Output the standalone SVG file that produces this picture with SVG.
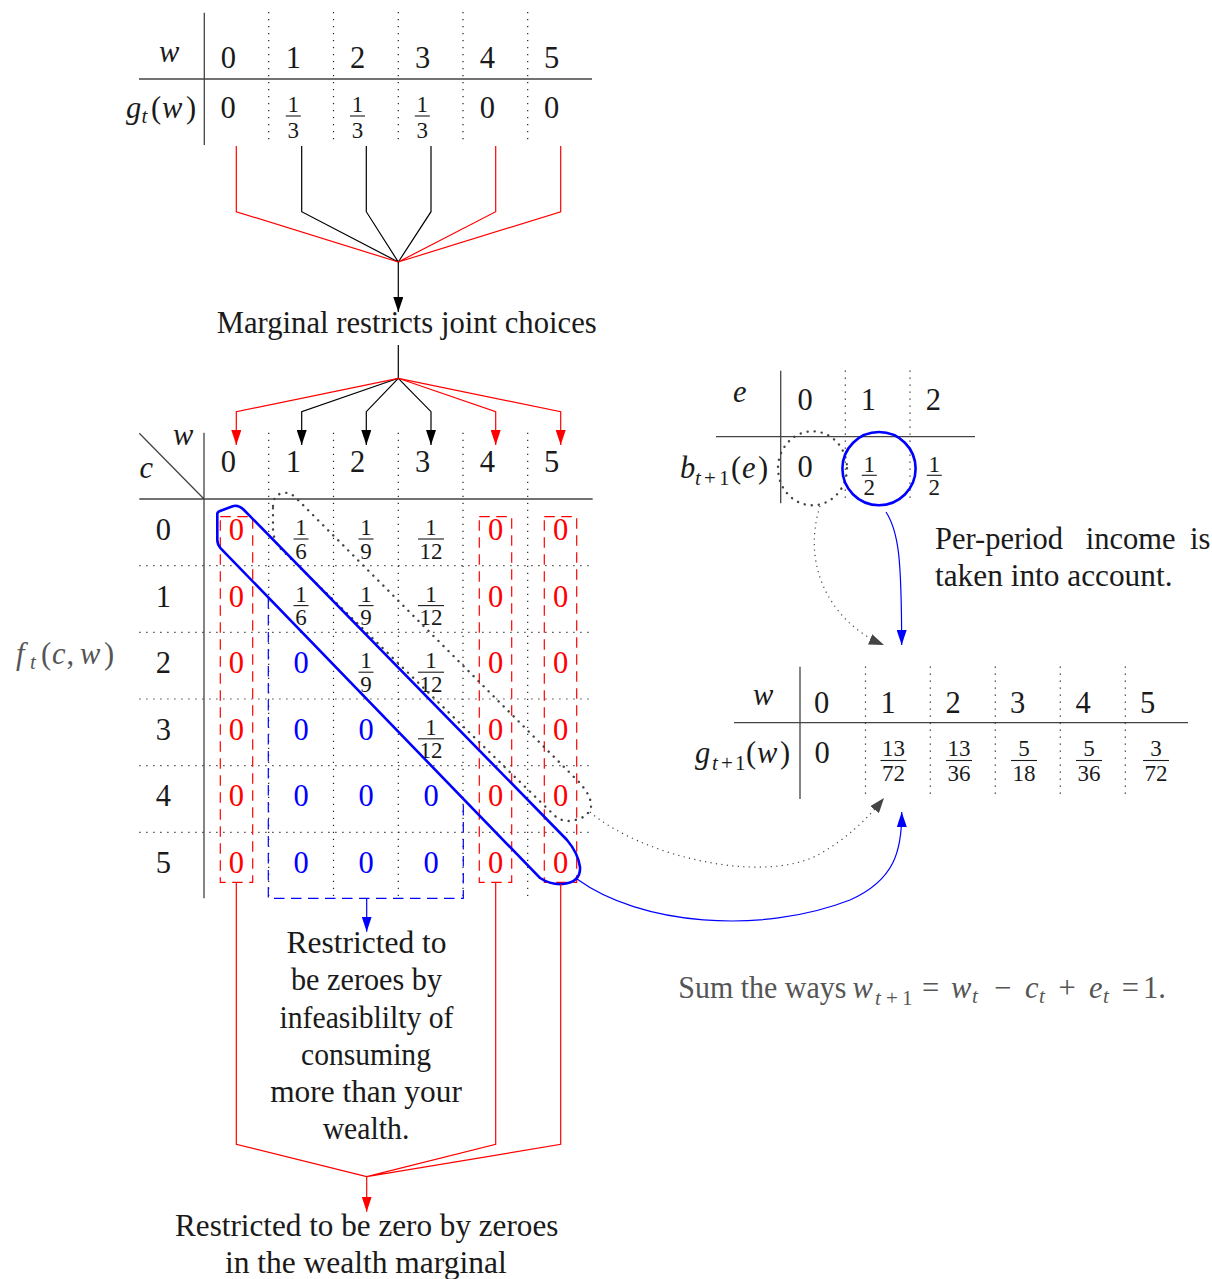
<svg xmlns="http://www.w3.org/2000/svg" width="1212" height="1279" viewBox="0 0 1212 1279">
<defs>
<style>
text{font-family:"Liberation Serif","Times New Roman",serif;fill:#1a1a1a;font-size:30.5px}
.c{text-anchor:middle}
.i{font-style:italic}
.s{font-size:21px}
.fr{font-size:23px;text-anchor:middle}
.red{fill:#ff0000}
.blue{fill:#0000ff}
.gray{fill:#555}
.solid{stroke:#444;stroke-width:1.3;fill:none}
.dot{stroke:#222;stroke-width:1.2;fill:none;stroke-dasharray:1.2 5.8}
.bar{stroke:#1a1a1a;stroke-width:1.1}
.cr{stroke:#ff0000;stroke-width:1.2;fill:none}
.ck{stroke:#000;stroke-width:1.2;fill:none}
.cb{stroke:#0000ff;stroke-width:1.2;fill:none}
.cg{stroke:#444;stroke-width:1.2;fill:none;stroke-dasharray:1.2 4.3}
.rdash{stroke:#ff0000;stroke-width:1.2;fill:none;stroke-dasharray:10.5 6.5}
.bdash{stroke:#0000ff;stroke-width:1.2;fill:none;stroke-dasharray:10.5 6.5}
.thickdot{stroke:#444;stroke-width:2.4;fill:none;stroke-dasharray:0.1 7;stroke-linecap:round}
.hl{stroke:#0000ff;stroke-width:2.6;fill:none}
</style>
<marker id="ak" viewBox="0 0 15 10" refX="15" refY="5" markerWidth="15" markerHeight="10" markerUnits="userSpaceOnUse" orient="auto"><path d="M0,0 L15,5 L0,10 Z" fill="#000"/></marker>
<marker id="ar" viewBox="0 0 15 10" refX="15" refY="5" markerWidth="15" markerHeight="10" markerUnits="userSpaceOnUse" orient="auto"><path d="M0,0 L15,5 L0,10 Z" fill="#ff0000"/></marker>
<marker id="ab" viewBox="0 0 15 10" refX="15" refY="5" markerWidth="15" markerHeight="10" markerUnits="userSpaceOnUse" orient="auto"><path d="M0,0 L15,5 L0,10 Z" fill="#0000ff"/></marker>
<marker id="ag" viewBox="0 0 15 11" refX="15" refY="5.5" markerWidth="15" markerHeight="11" markerUnits="userSpaceOnUse" orient="auto"><path d="M0,0 L15,5.5 L0,11 Z" fill="#444"/></marker>
</defs>
<rect width="1212" height="1279" fill="#fff"/>

<!-- top marginal table g_t(w) -->
<g id="gt-table">
<path class="solid" d="M139,79 H592 M204.3,12.7 V145"/>
<path class="dot" d="M268.7,12 V145 M333.5,12 V145 M398.3,12 V145 M463,12 V145 M527.7,12 V145"/>
<text class="i" x="159" y="62">w</text>
<text class="c" x="228.3" y="68">0</text>
<text class="c" x="293.3" y="68">1</text>
<text class="c" x="357.7" y="68">2</text>
<text class="c" x="422.7" y="68">3</text>
<text class="c" x="487.3" y="68">4</text>
<text class="c" x="551.7" y="68">5</text>
<text y="118"><tspan class="i" x="126">g</tspan><tspan class="i s" x="141.5" dy="4.5">t</tspan><tspan x="151" dy="-4.5">(</tspan><tspan class="i" x="162">w</tspan><tspan x="186">)</tspan></text>
<text class="c" x="228" y="118">0</text>
<text class="fr" x="293.3" y="111.7">1</text><line class="bar" x1="285.8" y1="116" x2="300.8" y2="116"/><text class="fr" x="293.3" y="138.3">3</text>
<text class="fr" x="357.5" y="111.7">1</text><line class="bar" x1="350" y1="116" x2="365" y2="116"/><text class="fr" x="357.5" y="138.3">3</text>
<text class="fr" x="422.3" y="111.7">1</text><line class="bar" x1="414.8" y1="116" x2="429.8" y2="116"/><text class="fr" x="422.3" y="138.3">3</text>
<text class="c" x="487.3" y="118">0</text>
<text class="c" x="551.7" y="118">0</text>
</g>

<!-- label node -->
<g id="marginal-label">
<text class="c" x="406.7" y="333" textLength="380" lengthAdjust="spacingAndGlyphs">Marginal restricts joint choices</text>
</g>

<!-- joint table f_t(c,w) -->
<g id="joint-table">
<path class="solid" d="M139.3,499 H592.7 M204,432.7 V898.3 M139.3,433.3 L204,499"/>
<path class="dot" d="M268.7,432.7 V898 M333.5,432.7 V898 M398.3,432.7 V898 M463,432.7 V898 M527.7,432.7 V898"/>
<path class="dot" d="M139.3,565.7 H592.7 M139.3,632.3 H592.7 M139.3,699 H592.7 M139.3,765.7 H592.7 M139.3,832.3 H592.7"/>
<text class="i" x="173" y="445">w</text>
<text class="i" x="139.5" y="478.3">c</text>
<text class="c" x="228.3" y="471.7">0</text>
<text class="c" x="293.3" y="471.7">1</text>
<text class="c" x="357.7" y="471.7">2</text>
<text class="c" x="422.7" y="471.7">3</text>
<text class="c" x="487.3" y="471.7">4</text>
<text class="c" x="551.7" y="471.7">5</text>
<text class="c" x="163.3" y="540">0</text>
<text class="c" x="163.3" y="606.6">1</text>
<text class="c" x="163.3" y="673.2">2</text>
<text class="c" x="163.3" y="739.8">3</text>
<text class="c" x="163.3" y="806.4">4</text>
<text class="c" x="163.3" y="873">5</text>
<!-- red zero columns -->
<g>
<text class="c red" x="236.3" y="540">0</text><text class="c red" x="236.3" y="606.6">0</text><text class="c red" x="236.3" y="673.2">0</text><text class="c red" x="236.3" y="739.8">0</text><text class="c red" x="236.3" y="806.4">0</text><text class="c red" x="236.3" y="873">0</text>
<text class="c red" x="495.7" y="540">0</text><text class="c red" x="495.7" y="606.6">0</text><text class="c red" x="495.7" y="673.2">0</text><text class="c red" x="495.7" y="739.8">0</text><text class="c red" x="495.7" y="806.4">0</text><text class="c red" x="495.7" y="873">0</text>
<text class="c red" x="560.5" y="540">0</text><text class="c red" x="560.5" y="606.6">0</text><text class="c red" x="560.5" y="673.2">0</text><text class="c red" x="560.5" y="739.8">0</text><text class="c red" x="560.5" y="806.4">0</text><text class="c red" x="560.5" y="873">0</text>
</g>
<!-- blue zeros -->
<text class="c blue" x="301" y="673.2">0</text><text class="c blue" x="301" y="739.8">0</text><text class="c blue" x="301" y="806.4">0</text><text class="c blue" x="301" y="873">0</text>
<text class="c blue" x="366" y="739.8">0</text><text class="c blue" x="366" y="806.4">0</text><text class="c blue" x="366" y="873">0</text>
<text class="c blue" x="431" y="806.4">0</text><text class="c blue" x="431" y="873">0</text>
<!-- fractions -->
<text class="fr" x="301" y="535">1</text><line class="bar" x1="293.5" y1="539" x2="308.5" y2="539"/><text class="fr" x="301" y="558.5">6</text>
<text class="fr" x="366" y="535">1</text><line class="bar" x1="358.5" y1="539" x2="373.5" y2="539"/><text class="fr" x="366" y="558.5">9</text>
<text class="fr" x="431" y="535">1</text><line class="bar" x1="418" y1="539" x2="444" y2="539"/><text class="fr" x="431" y="558.5">12</text>
<text class="fr" x="301" y="601.6">1</text><line class="bar" x1="293.5" y1="605.6" x2="308.5" y2="605.6"/><text class="fr" x="301" y="625.1">6</text>
<text class="fr" x="366" y="601.6">1</text><line class="bar" x1="358.5" y1="605.6" x2="373.5" y2="605.6"/><text class="fr" x="366" y="625.1">9</text>
<text class="fr" x="431" y="601.6">1</text><line class="bar" x1="418" y1="605.6" x2="444" y2="605.6"/><text class="fr" x="431" y="625.1">12</text>
<text class="fr" x="366" y="668.2">1</text><line class="bar" x1="358.5" y1="672.2" x2="373.5" y2="672.2"/><text class="fr" x="366" y="691.7">9</text>
<text class="fr" x="431" y="668.2">1</text><line class="bar" x1="418" y1="672.2" x2="444" y2="672.2"/><text class="fr" x="431" y="691.7">12</text>
<text class="fr" x="431" y="734.8">1</text><line class="bar" x1="418" y1="738.8" x2="444" y2="738.8"/><text class="fr" x="431" y="758.3">12</text>
</g>

<g id="joint-label">
<text class="gray" y="664"><tspan class="i gray" x="16">f</tspan><tspan class="i s gray" x="30" dy="4.5">t</tspan><tspan class="gray" x="41" dy="-4.5">(</tspan><tspan class="i gray" x="52">c</tspan><tspan class="gray" x="66.5">,</tspan><tspan class="i gray" x="80">w</tspan><tspan class="gray" x="104">)</tspan></text>
</g>

<!-- red dashed zero-wealth columns -->
<g id="wealth-zero-boxes">
<path class="rdash" d="M220.3,516.7 H252.7 V882.3 H220.3 Z"/>
<path class="rdash" d="M479.3,516.7 H511.7 V882.3 H479.3 Z"/>
<path class="rdash" d="M544.3,516.7 H576.7 V882.3 H544.3 Z"/>
</g>

<!-- blue dashed infeasible region -->
<g id="infeasible-box">
<path class="bdash" d="M268.3,598 V898.3 H463.3 V801"/>
</g>

<!-- e table b_{t+1}(e) -->
<g id="income-table">
<path class="solid" d="M716,436.7 H975 M780.7,370.7 V503.3"/>
<path class="dot" d="M845.3,370.5 V500 M910,370.5 V500"/>
<text class="i" x="733" y="401.7">e</text>
<text class="c" x="805" y="410">0</text>
<text class="c" x="868.3" y="410">1</text>
<text class="c" x="933.3" y="410">2</text>
<text y="478.3"><tspan class="i" x="680">b</tspan><tspan class="i s" x="695" dy="7">t</tspan><tspan class="s" x="704">+</tspan><tspan class="s" x="719">1</tspan><tspan x="731" dy="-7">(</tspan><tspan class="i" x="742">e</tspan><tspan x="758">)</tspan></text>
<text class="c" x="805" y="477.3">0</text>
<text class="fr" x="869.3" y="471.7">1</text><line class="bar" x1="861.8" y1="475.3" x2="876.8" y2="475.3"/><text class="fr" x="869.3" y="495">2</text>
<text class="fr" x="934.3" y="471.7">1</text><line class="bar" x1="926.8" y1="475.3" x2="941.8" y2="475.3"/><text class="fr" x="934.3" y="495">2</text>
</g>

<!-- next period marginal g_{t+1}(w) -->
<g id="gnext-table">
<path class="solid" d="M734,722.7 H1188 M800,666.7 V799"/>
<path class="dot" d="M865.5,666.5 V794 M930.3,666.5 V794 M995.3,666.5 V794 M1060.3,666.5 V794 M1125.3,666.5 V794"/>
<text class="i" x="753" y="705">w</text>
<text class="c" x="821.7" y="712.5">0</text>
<text class="c" x="888" y="712.5">1</text>
<text class="c" x="953" y="712.5">2</text>
<text class="c" x="1017.7" y="712.5">3</text>
<text class="c" x="1083" y="712.5">4</text>
<text class="c" x="1147.7" y="712.5">5</text>
<text y="763"><tspan class="i" x="695">g</tspan><tspan class="i s" x="712" dy="7">t</tspan><tspan class="s" x="721">+</tspan><tspan class="s" x="735">1</tspan><tspan x="746" dy="-7">(</tspan><tspan class="i" x="757">w</tspan><tspan x="780">)</tspan></text>
<text class="c" x="822" y="763">0</text>
<text class="fr" x="893.5" y="756">13</text><line class="bar" x1="880.5" y1="760.5" x2="906.5" y2="760.5"/><text class="fr" x="893.5" y="781">72</text>
<text class="fr" x="959" y="756">13</text><line class="bar" x1="946" y1="760.5" x2="972" y2="760.5"/><text class="fr" x="959" y="781">36</text>
<text class="fr" x="1024" y="756">5</text><line class="bar" x1="1011" y1="760.5" x2="1037" y2="760.5"/><text class="fr" x="1024" y="781">18</text>
<text class="fr" x="1089" y="756">5</text><line class="bar" x1="1076" y1="760.5" x2="1102" y2="760.5"/><text class="fr" x="1089" y="781">36</text>
<text class="fr" x="1156" y="756">3</text><line class="bar" x1="1143" y1="760.5" x2="1169" y2="760.5"/><text class="fr" x="1156" y="781">72</text>
</g>

<!-- highlight shapes -->
<g id="highlights">
<path class="thickdot" d="M273,506 Q273,494 284,493 Q291,492 298,500 L578,781 Q592,796 591,807 Q588,819 569,821 Q561,821 555,816 L279,547 Q273,539 273,528 Z"/>
<path class="hl" d="M217.3,514 L217.3,540 Q217.3,544.5 220.7,548.3 L540,878 Q551,885 563,884 Q581,882 580,867 Q578,853 567,840 L244,510 Q238,504 232,506.5 L220,511 Q217.3,512 217.3,514 Z"/>
<ellipse class="thickdot" cx="812.5" cy="468.3" rx="34.5" ry="37"/>
<circle class="hl" cx="879" cy="468.6" r="36.6"/>
</g>

<!-- annotation texts -->
<g id="income-note">
<text y="549.3"><tspan x="935">Per-period</tspan><tspan x="1085.8">income</tspan><tspan x="1190">is</tspan></text>
<text x="935" y="586" textLength="237.5" lengthAdjust="spacingAndGlyphs">taken into account.</text>
</g>
<g id="infeasible-note">
<text class="c" x="366.5" y="952.7" textLength="160" lengthAdjust="spacingAndGlyphs">Restricted to</text>
<text class="c" x="366.5" y="990" textLength="151" lengthAdjust="spacingAndGlyphs">be zeroes by</text>
<text class="c" x="366.5" y="1027.7" textLength="174" lengthAdjust="spacingAndGlyphs">infeasiblilty of</text>
<text class="c" x="366" y="1065" textLength="130" lengthAdjust="spacingAndGlyphs">consuming</text>
<text class="c" x="366" y="1101.7" textLength="191.7" lengthAdjust="spacingAndGlyphs">more than your</text>
<text class="c" x="366" y="1139.3" textLength="86.7" lengthAdjust="spacingAndGlyphs">wealth.</text>
</g>
<g id="zero-note">
<text class="c" x="366.7" y="1236" textLength="383.3" lengthAdjust="spacingAndGlyphs">Restricted to be zero by zeroes</text>
<text class="c" x="365.8" y="1272.7" textLength="281.7" lengthAdjust="spacingAndGlyphs">in the wealth marginal</text>
</g>
<g id="sum-note">
<text class="gray" y="998.3"><tspan class="gray" x="678.3" textLength="168" lengthAdjust="spacingAndGlyphs">Sum the ways</tspan><tspan class="i gray" x="852.5">w</tspan><tspan class="i s gray" x="875" dy="7">t</tspan><tspan class="s gray" x="886">+</tspan><tspan class="s gray" x="902">1</tspan><tspan class="gray" x="922" dy="-7">=</tspan><tspan class="i gray" x="951">w</tspan><tspan class="i s gray" x="972" dy="4.5">t</tspan><tspan class="gray" x="994" dy="-4.5">−</tspan><tspan class="i gray" x="1025">c</tspan><tspan class="i s gray" x="1039" dy="4.5">t</tspan><tspan class="gray" x="1058.5" dy="-4.5">+</tspan><tspan class="i gray" x="1089">e</tspan><tspan class="i s gray" x="1103" dy="4.5">t</tspan><tspan class="gray" x="1121.7" dy="-4.5">=</tspan><tspan class="gray" x="1143">1.</tspan></text>
</g>

<!-- connectors -->
<g id="connectors">
<path class="ck" d="M301.7,146 V211.7 L398.3,262 M366.3,146 V211.7 L398.3,262 M431,146 V211.7 L398.3,262"/>
<path class="cr" d="M236.3,146 V211.7 L398.3,262 M495.7,146 V211.7 L398.3,262 M560.7,146 V211.7 L398.3,262"/>
<path class="ck" d="M398.3,262 V312" marker-end="url(#ak)"/>
<path class="ck" d="M398.3,345 V378.3"/>
<path class="ck" d="M398.3,378.3 L301.7,411.7 V445" marker-end="url(#ak)"/>
<path class="ck" d="M398.3,378.3 L366.3,411.7 V445" marker-end="url(#ak)"/>
<path class="ck" d="M398.3,378.3 L431,411.7 V445" marker-end="url(#ak)"/>
<path class="cr" d="M398.3,378.3 L236.3,411.7 V445" marker-end="url(#ar)"/>
<path class="cr" d="M398.3,378.3 L495.7,411.7 V445" marker-end="url(#ar)"/>
<path class="cr" d="M398.3,378.3 L560.7,411.7 V445" marker-end="url(#ar)"/>
<path class="cb" d="M366.7,898.3 V931.7" marker-end="url(#ab)"/>
<path class="cr" d="M236.3,882.3 V1144.3 L366.7,1176.7 M495.7,882.3 V1144.3 L366.7,1176.7 M560.7,884 V1144.3 L366.7,1176.7"/>
<path class="cr" d="M366.7,1176.7 V1211.7" marker-end="url(#ar)"/>
<path class="cb" d="M886,512 C899,532 901.5,560 901.7,645" marker-end="url(#ab)"/>
<path class="cg" d="M820,506 C800,570 835,625 884,645" marker-end="url(#ag)"/>
<path class="cg" d="M590,812 C640,855 760,885 818,855 C848,838 868,818 884,798" marker-end="url(#ag)"/>
<path class="cb" d="M577,879 C640,925 760,935 850,900 C895,880 902,850 901.7,812" marker-end="url(#ab)"/>
</g>
</svg>
